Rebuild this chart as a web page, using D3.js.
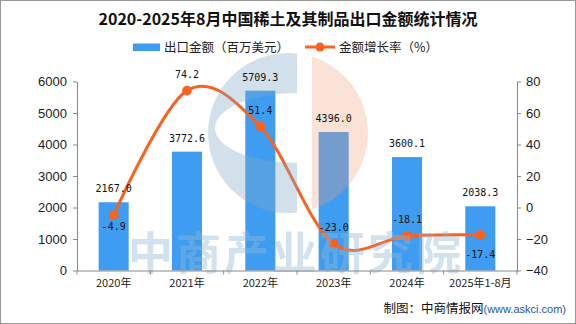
<!DOCTYPE html>
<html>
<head>
<meta charset="utf-8">
<script src="https://cdn.jsdelivr.net/npm/d3@7"></script>
<style>
  html, body { margin: 0; padding: 0; background: #fff; }
  svg { display: block; }
</style>
</head>
<body>
<script>
// data
const categories = ["2020年", "2021年", "2022年", "2023年", "2024年", "2025年1-8月"];
const exportValue = [2167.0, 3772.6, 5709.3, 4396.0, 3600.1, 2038.3];   // 百万美元
const growthRate = [-4.9, 74.2, 51.4, -23.0, -18.1, -17.4];             // %
const leftTicks = [0, 1000, 2000, 3000, 4000, 5000, 6000];
const rightTicks = [-40, -20, 0, 20, 40, 60, 80];
// label placement for the line values (above / below the point)
const rateLabelSide = ["below", "above", "above", "above", "above", "below"];

const w = 576, h = 324;
const plotLeft = 77, plotRight = 517, plotTop = 81.5, plotBottom = 270.5;
const barColor = "#3f9df1";
const lineColor = "#f9621f";
const numFont = "'DejaVu Sans Mono', monospace";
const cjkFont = "'Noto Sans CJK SC', sans-serif";

const svg = d3.select("body").append("svg")
  .attr("width", w)
  .attr("height", h);

// frame
svg.append("rect")
  .attr("x", 0.5).attr("y", 0.5)
  .attr("width", w - 1).attr("height", h - 1)
  .attr("fill", "#fff")
  .attr("stroke", "#999");

// title
svg.append("text")
  .attr("x", 288).attr("y", 25)
  .attr("text-anchor", "middle")
  .style("font-family", cjkFont)
  .style("font-weight", "bold")
  .style("font-size", "16px")
  .attr("fill", "#111")
  .text("2020-2025年8月中国稀土及其制品出口金额统计情况");

// legend
const legend = svg.append("g");
legend.append("rect")
  .attr("x", 133).attr("y", 43.5)
  .attr("width", 27).attr("height", 7.5)
  .attr("fill", barColor);
legend.append("text")
  .attr("x", 164).attr("y", 51.5)
  .style("font-family", cjkFont)
  .style("font-size", "12.5px")
  .attr("fill", "#222")
  .text("出口金额（百万美元）");
legend.append("line")
  .attr("x1", 305).attr("x2", 335)
  .attr("y1", 47).attr("y2", 47)
  .attr("stroke", lineColor)
  .attr("stroke-width", 3);
legend.append("circle")
  .attr("cx", 320).attr("cy", 47).attr("r", 4.5)
  .attr("fill", lineColor);
legend.append("text")
  .attr("x", 339).attr("y", 51.5)
  .style("font-family", cjkFont)
  .style("font-size", "12.5px")
  .attr("fill", "#222")
  .text("金额增长率（%）");

// scales
const x = d3.scaleBand()
  .domain(categories)
  .range([plotLeft, plotRight])
  .padding(0);

const yLeft = d3.scaleLinear()
  .domain([0, 6000])
  .range([plotBottom, plotTop]);

const yRight = d3.scaleLinear()
  .domain([-40, 80])
  .range([plotBottom, plotTop]);

const cx = (c) => x(c) + x.bandwidth() / 2;
const barW = x.bandwidth() * 0.41;

// bars
svg.selectAll("rect.bar")
  .data(exportValue)
  .enter()
  .append("rect")
  .attr("class", "bar")
  .attr("x", (d, i) => cx(categories[i]) - barW / 2)
  .attr("y", (d) => yLeft(d))
  .attr("width", barW)
  .attr("height", (d) => yLeft(0) - yLeft(d))
  .attr("fill", barColor);

// line
const line = d3.line()
  .x((d, i) => cx(categories[i]))
  .y((d) => yRight(d))
  .curve(d3.curveCardinal.tension(0));

svg.append("path")
  .datum(growthRate)
  .attr("d", line)
  .attr("fill", "none")
  .attr("stroke", lineColor)
  .attr("stroke-width", 3);

svg.selectAll("circle.pt")
  .data(growthRate)
  .enter()
  .append("circle")
  .attr("class", "pt")
  .attr("cx", (d, i) => cx(categories[i]))
  .attr("cy", (d) => yRight(d))
  .attr("r", 4.8)
  .attr("fill", lineColor);

// watermark (logo + text), drawn over the marks
const wm = svg.append("g").style("pointer-events", "none");
const defs = svg.append("defs");
defs.append("clipPath").attr("id", "clipL")
  .append("rect").attr("x", 0).attr("y", 0).attr("width", 297).attr("height", h);
defs.append("clipPath").attr("id", "clipR")
  .append("rect").attr("x", 312).attr("y", 0).attr("width", 100).attr("height", h);
const mask = defs.append("mask").attr("id", "cMask");
mask.append("rect").attr("x", 0).attr("y", 0).attr("width", w).attr("height", h).attr("fill", "#fff");
mask.append("ellipse").attr("cx", 297).attr("cy", 128).attr("rx", 82).attr("ry", 35).attr("fill", "#000");

wm.append("circle")
  .attr("cx", 288).attr("cy", 133).attr("r", 80)
  .attr("fill", "#7fa9c9").attr("opacity", 0.35)
  .attr("clip-path", "url(#clipL)")
  .attr("mask", "url(#cMask)");
wm.append("circle")
  .attr("cx", 288).attr("cy", 133).attr("r", 80)
  .attr("fill", "#f0a07a").attr("opacity", 0.3)
  .attr("clip-path", "url(#clipR)");
wm.append("text")
  .attr("x", 128).attr("y", 270)
  .style("font-family", cjkFont)
  .style("font-weight", "bold")
  .style("font-size", "45px")
  .style("letter-spacing", "3px")
  .attr("fill", "#8fb6d4")
  .attr("opacity", 0.4)
  .text("中商产业研究院");

// value labels on bars
svg.selectAll("text.barlab")
  .data(exportValue)
  .enter()
  .append("text")
  .attr("class", "barlab")
  .attr("x", (d, i) => cx(categories[i]))
  .attr("y", (d) => yLeft(d) - 10)
  .attr("text-anchor", "middle")
  .style("font-family", numFont)
  .style("font-size", "10px")
  .attr("fill", "#111")
  .text((d) => d.toFixed(1));

// value labels on line
svg.selectAll("text.ratelab")
  .data(growthRate)
  .enter()
  .append("text")
  .attr("class", "ratelab")
  .attr("x", (d, i) => cx(categories[i]))
  .attr("y", (d, i) => yRight(d) + (rateLabelSide[i] === "above" ? -13 : (i === 0 ? 15 : 23)))
  .attr("text-anchor", "middle")
  .style("font-family", numFont)
  .style("font-size", "10px")
  .attr("fill", "#111")
  .text((d) => d.toFixed(1));

// axes
function styleAxis(g) {
  g.selectAll(".domain, .tick line").attr("stroke", "#888");
  g.selectAll(".tick text")
    .attr("fill", "#222")
    .style("font-family", "'Liberation Sans', Arial, sans-serif")
    .style("font-size", "13px");
}

svg.append("g")
  .attr("transform", "translate(" + plotLeft + ",0)")
  .call(d3.axisLeft(yLeft).tickValues(leftTicks).tickFormat(d3.format("d"))
    .tickSize(4).tickSizeOuter(0).tickPadding(6))
  .call(styleAxis);

svg.append("g")
  .attr("transform", "translate(" + plotRight + ",0)")
  .call(d3.axisRight(yRight).tickValues(rightTicks).tickFormat(d3.format("d"))
    .tickSize(4).tickSizeOuter(0).tickPadding(5))
  .call(styleAxis);

const xg = svg.append("g")
  .attr("transform", "translate(0," + plotBottom + ")")
  .call(d3.axisBottom(x).tickSize(0).tickSizeOuter(0).tickPadding(9))
  .call(styleAxis);
xg.selectAll(".tick text")
  .style("font-family", cjkFont)
  .style("font-size", "11px");

// tick marks at the band edges
const edges = categories.map((c) => x(c)).concat([x.range()[1]]);
xg.selectAll("line.edge")
  .data(edges)
  .enter()
  .append("line")
  .attr("class", "edge")
  .attr("x1", (d) => d).attr("x2", (d) => d)
  .attr("y1", 0).attr("y2", 4)
  .attr("stroke", "#888");

// source note
const note = svg.append("text")
  .attr("x", 566).attr("y", 313)
  .attr("text-anchor", "end")
  .style("font-family", cjkFont)
  .style("font-size", "12.5px")
  .attr("fill", "#111");
note.append("tspan").text("制图：中商情报网");
note.append("tspan")
  .attr("fill", "#2a55a5")
  .style("font-family", "'Liberation Sans', Arial, sans-serif")
  .style("font-size", "11px")
  .text("(www.askci.com)");
</script>
</body>
</html>
